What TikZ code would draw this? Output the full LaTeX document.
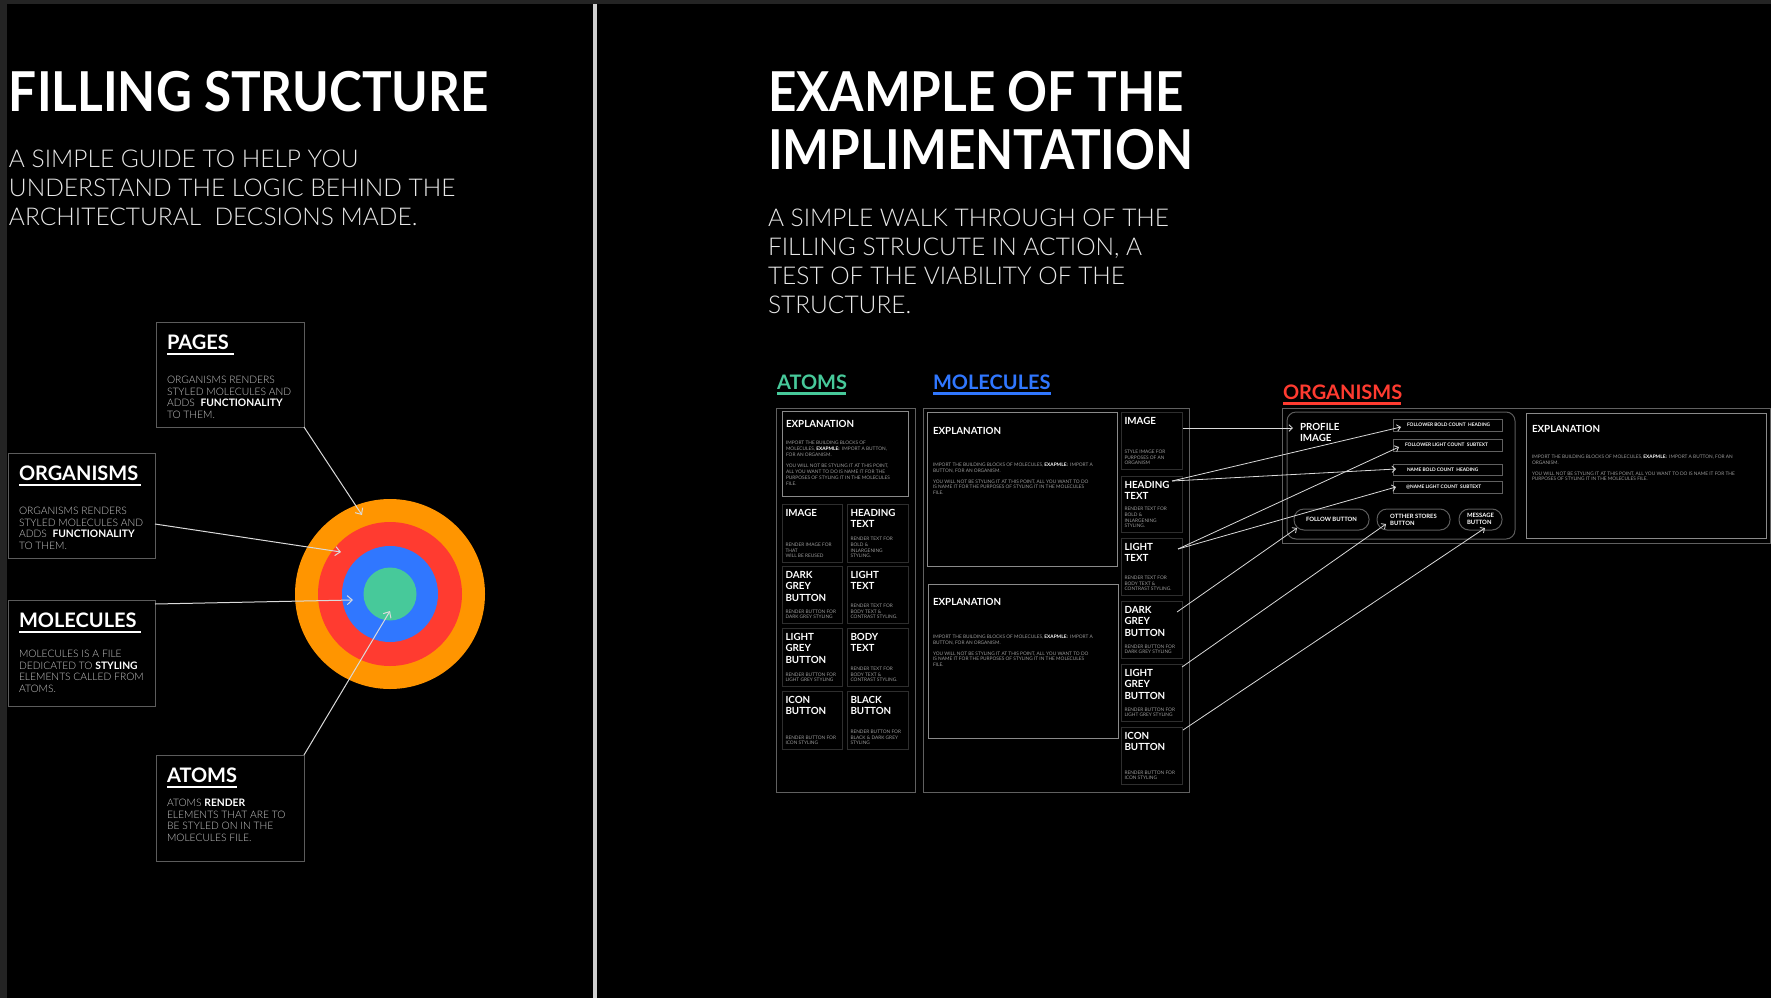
\documentclass[tikz,border=0pt]{standalone}
\usepackage{fontspec}
\setmainfont{Lato}
\newfontfamily\lightf{Lato Light}
\newfontfamily\boldf{Lato Bold}
\newfontfamily\ttlf[FakeStretch=0.9]{Lato Bold}
\usetikzlibrary{arrows.meta,fit,calc}
\definecolor{stripc}{HTML}{242424}
\definecolor{divc}{HTML}{D0D0D0}
\definecolor{subc}{HTML}{E8E8E8}
\definecolor{bodyc}{HTML}{C8C8C8}
\definecolor{lboxc}{HTML}{5C5C5C}
\definecolor{oboxc}{HTML}{606060}
\definecolor{xboxc}{HTML}{8A8A8A}
\definecolor{cboxc}{HTML}{2E2E2E}
\definecolor{tinyc}{HTML}{9A9A9A}
\definecolor{arrc}{HTML}{DADADA}
\definecolor{orgc}{HTML}{FF9500}
\definecolor{redc}{HTML}{FF3B30}
\definecolor{bluec}{HTML}{3077FF}
\definecolor{greenc}{HTML}{47C99A}
\newcommand\fsz[2]{\fontsize{#1}{#2}\selectfont}
\newcommand\wb[1]{\textcolor{white}{\boldf #1}}
\newcommand\cellbox[7]{%
  \node[cbox, fit={(#2,#3) (#4,#5)}] (#1) {};
  \node[chead] (#1-t) at ($(#1.north west)+(3.5,5)$) {#6};
  \node[cdesc] (#1-d) at ($(#1.south west)+(3.5,-4)$) {#7};
}
\begin{document}
\begin{tikzpicture}[x=1pt,y=-1pt,
  every node/.style={inner sep=0pt, outer sep=0pt},
  lbox/.style={draw=lboxc, line width=1pt},
  obox/.style={draw=oboxc, line width=1pt},
  xbox/.style={draw=xboxc, line width=1pt},
  cbox/.style={draw=cboxc, line width=1pt},
  ttl/.style={text=white, font=\ttlf\fsz{55}{60}, anchor=base west},
  sub/.style={text=subc, font=\lightf\fsz{24.5}{29}, anchor=north west, align=left},
  lhead/.style={text=white, font=\boldf\fsz{20}{20}, anchor=base west},
  lbody/.style={text=bodyc, font=\lightf\fsz{10.3}{11.7}, anchor=north west, align=left},
  chead/.style={text=white, font=\boldf\fsz{9.8}{11.7}, anchor=north west, align=left},
  tiny/.style={text=tinyc, font=\fsz{4.8}{5.8}, anchor=north west, align=left},
  cdesc/.style={tiny, anchor=south west},
  lbl/.style={text=white, font=\boldf\fsz{4.8}{5.8}},
  pill/.style={draw=lboxc, line width=1pt, rounded corners=10pt},
  larr/.style={draw=arrc, line width=1pt, -{Straight Barb[length=5pt,width=9pt]}},
  rarr/.style={draw=arrc, line width=0.8pt, -{Straight Barb[length=3.5pt,width=6.5pt]}}]
\useasboundingbox (0,0) rectangle (1771,998);
\fill[stripc] (0,0) rectangle (1771,998);
\fill[black] (7,4) rectangle (1771,998);
\fill[divc] (593,4) rectangle (597,998);

% ---------- left panel ----------
\node[ttl] (title1) at (9,111) {FILLING STRUCTURE};
\node[sub] (sub1) at (9,150) {A SIMPLE GUIDE TO HELP YOU\\UNDERSTAND THE LOGIC BEHIND THE\\ARCHITECTURAL\ \ DECSIONS MADE.};

\node[lbox, fit={(156,322) (304,427)}] (pagesBox) {};
\node[lhead] (pagesH) at (167,349) {PAGES};
\draw[white, line width=2.5pt] (167,354) -- (234,354);
\node[lbody] (pagesB) at (167,376) {ORGANISMS RENDERS\\STYLED MOLECULES AND\\ADDS\ \ \wb{FUNCTIONALITY}\\TO THEM.};

\node[lbox, fit={(8,453) (155,558)}] (orgBox) {};
\node[lhead] (orgH) at (19,480) {ORGANISMS};
\draw[white, line width=2.5pt] (19,485) -- (141,485);
\node[lbody] (orgB) at (19,507) {ORGANISMS RENDERS\\STYLED MOLECULES AND\\ADDS\ \ \wb{FUNCTIONALITY}\\TO THEM.};

\node[lbox, fit={(8,600) (155,706)}] (molBox) {};
\node[lhead] (molH) at (19,627) {MOLECULES};
\draw[white, line width=2.5pt] (19,632) -- (141,632);
\node[lbody] (molB) at (19,650) {MOLECULES IS A FILE\\DEDICATED TO \wb{STYLING}\\ELEMENTS CALLED FROM\\ATOMS.};

\node[lbox, fit={(156,755) (304,861)}] (atomBox) {};
\node[lhead] (atomH) at (167,782) {ATOMS};
\draw[white, line width=2.5pt] (167,787) -- (237,787);
\node[lbody] (atomB) at (167,799) {ATOMS \wb{RENDER}\\ELEMENTS THAT ARE TO\\BE STYLED ON IN THE\\MOLECULES FILE.};

\node[circle, fill=orgc, minimum size=190pt] (ring4) at (390,594) {};
\node[circle, fill=redc, minimum size=144pt] (ring3) at (390,594) {};
\node[circle, fill=bluec, minimum size=96pt] (ring2) at (390,594) {};
\node[circle, fill=greenc, minimum size=53pt] (ring1) at (390,594) {};

\coordinate (tPages) at (362,515);
\coordinate (tOrg) at (341,552);
\coordinate (tMol) at (353,600);
\coordinate (tAtom) at (390,611);
\draw[larr] (pagesBox.south east) -- (tPages);
\draw[larr] ($(orgBox.north east)+(0,71)$) -- (tOrg);
\draw[larr] ($(molBox.north east)+(0,4)$) -- (tMol);
\draw[larr] (atomBox.north east) -- (tAtom);

% ---------- right panel ----------
\node[ttl] (title2) at (768,111) {EXAMPLE OF THE};
\node[ttl] (title3) at (768,169) {IMPLIMENTATION};
\node[sub] (sub2) at (768,209) {A SIMPLE WALK THROUGH OF THE\\FILLING STRUCUTE IN ACTION, A\\TEST OF THE VIABILITY OF THE\\STRUCTURE.};

% section labels
\node[lhead, text=greenc] (lAtoms) at (777,389) {ATOMS};
\draw[greenc, line width=2.7pt] (777,393.5) -- (846,393.5);
\node[lhead, text=bluec] (lMol) at (933,389) {MOLECULES};
\draw[bluec, line width=2.7pt] (933,393.5) -- (1051,393.5);
\node[lhead, text=redc] (lOrg) at (1283,399) {ORGANISMS};
\draw[redc, line width=2.7pt] (1283,403.5) -- (1401,403.5);

% atoms
\node[obox, fit={(776,408) (915,792)}] (aOuter) {};
\node[xbox, fit={(782,411) (908,496)}] (aExp) {};
\node[chead] (aExpH) at (786,420) {EXPLANATION};
\node[tiny] (aExpT) at (786,441) {IMPORT THE BUILDING BLOCKS OF\\MOLECULES, \wb{EXAPMLE:}\ \ IMPORT A BUTTON,\\FOR AN ORGANISM.\\[5.8pt]YOU WILL NOT BE STYLING IT AT THIS POINT,\\ALL YOU WANT TO DO IS NAME IT FOR THE\\PURPOSES OF STYLING IT IN THE MOLECULES\\FILE.};
\cellbox{a11}{782}{504}{842}{562}{IMAGE}{RENDER IMAGE FOR\\THAT\\WILL BE REUSED}
\cellbox{a12}{847}{504}{908}{562}{HEADING\\TEXT}{RENDER TEXT FOR\\BOLD \&\\INLARGENING\\STYLING.}
\cellbox{a21}{782}{566}{842}{623}{DARK\\GREY\\BUTTON}{RENDER BUTTON FOR\\DARK GREY STYLING}
\cellbox{a22}{847}{566}{908}{623}{LIGHT\\TEXT}{RENDER TEXT FOR\\BODY TEXT \&\\CONTRAST STYLING.}
\cellbox{a31}{782}{628}{842}{686}{LIGHT\\GREY\\BUTTON}{RENDER BUTTON FOR\\LIGHT GREY STYLING}
\cellbox{a32}{847}{628}{908}{686}{BODY\\TEXT}{RENDER TEXT FOR\\BODY TEXT \&\\CONTRAST STYLING.}
\cellbox{a41}{782}{691}{842}{749}{ICON\\BUTTON}{RENDER BUTTON FOR\\ICON STYLING}
\cellbox{a42}{847}{691}{908}{749}{BLACK\\BUTTON}{RENDER BUTTON FOR\\BLACK \& DARK GREY\\STYLING}

% molecules
\node[obox, fit={(923,408) (1189,792)}] (mOuter) {};
\node[xbox, fit={(927,412) (1117,566)}] (mExp1) {};
\node[chead] (mExp1H) at (933,427) {EXPLANATION};
\node[tiny] (mExp1T) at (933,463) {IMPORT THE BUILDING BLOCKS OF MOLECULES, \wb{EXAPMLE:}\ \ IMPORT A\\BUTTON, FOR AN ORGANISM.\\[5pt]YOU WILL NOT BE STYLING IT AT THIS POINT, ALL YOU WANT TO DO\\IS NAME IT FOR THE PURPOSES OF STYLING IT IN THE MOLECULES\\FILE.};
\node[xbox, fit={(928,584) (1118,738)}] (mExp2) {};
\node[chead] (mExp2H) at (933,598) {EXPLANATION};
\node[tiny] (mExp2T) at (933,635) {IMPORT THE BUILDING BLOCKS OF MOLECULES, \wb{EXAPMLE:}\ \ IMPORT A\\BUTTON, FOR AN ORGANISM.\\[5pt]YOU WILL NOT BE STYLING IT AT THIS POINT, ALL YOU WANT TO DO\\IS NAME IT FOR THE PURPOSES OF STYLING IT IN THE MOLECULES\\FILE.};
\cellbox{mImage}{1121}{412}{1182}{469}{IMAGE}{STYLE IMAGE FOR\\PURPOSES OF AN\\ORGANISM}
\cellbox{mHead}{1121}{476}{1182}{532}{HEADING\\TEXT}{RENDER TEXT FOR\\BOLD \&\\INLARGENING\\STYLING.}
\cellbox{mLight}{1121}{538}{1182}{595}{LIGHT\\TEXT}{RENDER TEXT FOR\\BODY TEXT \&\\CONTRAST STYLING.}
\cellbox{mDark}{1121}{601}{1182}{658}{DARK\\GREY\\BUTTON}{RENDER BUTTON FOR\\DARK GREY STYLING}
\cellbox{mLGrey}{1121}{664}{1182}{721}{LIGHT\\GREY\\BUTTON}{RENDER BUTTON FOR\\LIGHT GREY STYLING}
\cellbox{mIcon}{1121}{727}{1182}{784}{ICON\\BUTTON}{RENDER BUTTON FOR\\ICON STYLING}

% organisms
\node[obox, fit={(1282,408) (1770,543)}] (oOuter) {};
\node[draw=lboxc, line width=1pt, rounded corners=9pt, fit={(1287,412) (1515,539)}] (oCard) {};
\node[draw=cboxc!130, line width=1pt, fit={(1294,419) (1357,478)}] (oProfile) {};
\node[chead] (oProfileT) at (1300,423) {PROFILE\\IMAGE};
\node[draw=oboxc, line width=0.8pt, fit={(1393,419) (1502,431)}] (oFB) {};
\node[lbl, anchor=west] (oFBt) at ($(oFB.west)+(14,0)$) {FOLLOWER BOLD COUNT\ \ HEADING};
\node[draw=oboxc, line width=0.8pt, fit={(1393,439) (1502,451)}] (oFL) {};
\node[lbl, anchor=west] (oFLt) at ($(oFL.west)+(12,0)$) {FOLLOWER LIGHT COUNT\ \ SUBTEXT};
\node[draw=oboxc, line width=0.8pt, fit={(1393,464) (1502,475)}] (oNB) {};
\node[lbl, anchor=west] (oNBt) at ($(oNB.west)+(14,0)$) {NAME BOLD COUNT\ \ HEADING};
\node[draw=oboxc, line width=0.8pt, fit={(1393,481) (1502,493)}] (oNL) {};
\node[lbl, anchor=west] (oNLt) at ($(oNL.west)+(13,0)$) {@NAME LIGHT COUNT\ \ SUBTEXT};
\node[pill, fit={(1294,509) (1369,530)}] (oFollow) {};
\node[lbl, font=\boldf\fsz{5.9}{7}] (oFollowT) at (oFollow.center) {FOLLOW BUTTON};
\node[pill, fit={(1377,509) (1450,530)}] (oOther) {};
\node[lbl, font=\boldf\fsz{5.9}{7}, align=left] (oOtherT) at (oOther.center) {OTTHER STORES\\BUTTON};
\node[pill, fit={(1459,509) (1502,530)}] (oMsg) {};
\node[lbl, font=\boldf\fsz{5.9}{7}, align=left] (oMsgT) at ($(oMsg.center)+(0,-1)$) {MESSAGE\\BUTTON};
\node[xbox, fit={(1526,413) (1766,538)}] (oExp) {};
\node[chead] (oExpH) at (1532,425) {EXPLANATION};
\node[tiny] (oExpT) at (1532,455) {IMPORT THE BUILDING BLOCKS OF MOLECULES, \wb{EXAPMLE:}\ \ IMPORT A BUTTON, FOR AN\\ORGANISM.\\[5pt]YOU WILL NOT BE STYLING IT AT THIS POINT, ALL YOU WANT TO DO IS NAME IT FOR THE\\PURPOSES OF STYLING IT IN THE MOLECULES FILE.};

% arrows molecules -> organisms
\draw[rarr] ($(mImage.north east)+(1,16)$) -- ($(oProfile.north west)+(-1,9)$);
\draw[rarr] ($(mHead.north east)+(-10,5)$) -- ($(oFB.north west)+(8,8)$);
\draw[rarr] ($(mHead.north east)+(-10,5)$) -- ($(oNB.north west)+(3,5)$);
\draw[rarr] ($(mLight.north east)+(-4,11)$) -- ($(oFL.north west)+(6,8)$);
\draw[rarr] ($(mLight.north east)+(-4,11)$) -- ($(oNL.north west)+(3,6)$);
\draw[rarr] ($(mDark.north east)+(-5,11)$) -- ($(oFollow.south west)+(3,-2)$);
\draw[rarr] ($(mLGrey.north east)+(0,3)$) -- ($(oOther.south west)+(9,-6)$);
\draw[rarr] ($(mIcon.north east)+(1,3)$) -- ($(oMsg.south west)+(26,-2)$);
\end{tikzpicture}
\end{document}
